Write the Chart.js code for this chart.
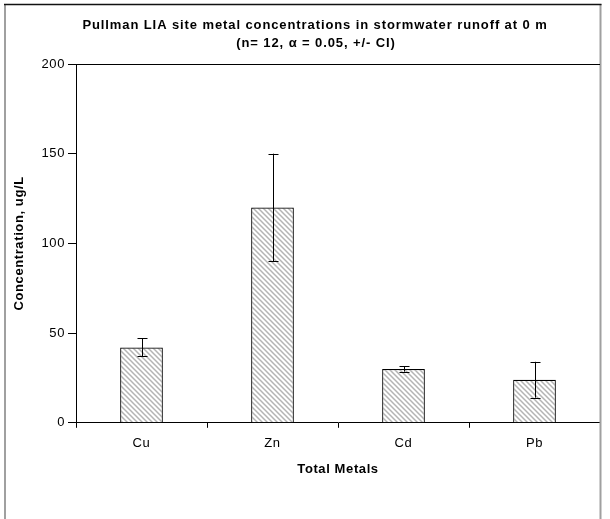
<!DOCTYPE html>
<html>
<head>
<meta charset="utf-8">
<script src="https://cdn.jsdelivr.net/npm/chart.js@4/dist/chart.umd.min.js"></script>
<style>
  html, body { margin: 0; padding: 0; background: #fff; }
  #wrap { width: 610px; height: 519px; }
</style>
</head>
<body>
<div id="wrap"><canvas id="c" width="610" height="519"></canvas></div>
<script>
// Metals measured in runoff, mean and confidence half-width (ug/L)
const metals = ['Cu', 'Zn', 'Cd', 'Pb'];
const meanConc = [42, 120, 30, 24];
const ciHalf = [5, 30, 1.5, 10];
const yTicks = [0, 50, 100, 150, 200];
const titleLines = ['Pullman LIA site metal concentrations in stormwater runoff at 0 m', '(n= 12, \u03b1 = 0.05, +/- CI)'];

const FONT = '"Liberation Sans", Arial, sans-serif';
const SPACING = '0.6px';

// Diagonal hatch fill for the bars
function hatchPattern() {
  const s = 5;
  const t = document.createElement('canvas');
  t.width = s; t.height = s;
  const g = t.getContext('2d');
  g.fillStyle = '#ffffff';
  g.fillRect(0, 0, s, s);
  g.strokeStyle = '#b4b4b4';
  g.lineWidth = 1.5;
  g.beginPath();
  g.moveTo(-1, -1); g.lineTo(s + 1, s + 1);
  g.moveTo(-1, s - 1); g.lineTo(1, s + 1);
  g.moveTo(s - 1, -1); g.lineTo(s + 1, 1);
  g.stroke();
  return g.createPattern(t, 'repeat');
}

// Slightly wider character spacing for all chart text
const spacingPlugin = {
  id: 'textSpacing',
  beforeUpdate(chart) { chart.ctx.letterSpacing = SPACING; },
  beforeLayout(chart) { chart.ctx.letterSpacing = SPACING; },
  beforeDraw(chart) { chart.ctx.letterSpacing = SPACING; }
};

// Outer frame and the two-line heading
const framePlugin = {
  id: 'frameAndHeading',
  beforeDraw(chart) {
    const ctx = chart.ctx;
    ctx.save();
    ctx.fillStyle = '#fff';
    ctx.fillRect(0, 0, chart.width, chart.height);
    ctx.restore();
  },
  afterDraw(chart) {
    const ctx = chart.ctx;
    ctx.save();
    ctx.strokeStyle = '#a0a0a0';
    ctx.lineWidth = 2;
    ctx.beginPath();
    ctx.moveTo(5, 4); ctx.lineTo(5, chart.height + 2);
    ctx.moveTo(600.5, 4); ctx.lineTo(600.5, chart.height + 2);
    ctx.stroke();
    ctx.strokeStyle = '#111';
    ctx.lineWidth = 1.5;
    ctx.beginPath();
    ctx.moveTo(4, 4.5); ctx.lineTo(601.5, 4.5);
    ctx.stroke();
    ctx.fillStyle = '#000';
    ctx.font = 'bold 13px ' + FONT;
    ctx.letterSpacing = '0.9px';
    ctx.textAlign = 'center';
    ctx.textBaseline = 'middle';
    ctx.fillText(titleLines[0], 315, 25);
    ctx.fillText(titleLines[1], 316, 43);
    ctx.restore();
  }
};

// Confidence-interval whiskers positioned through the y scale
const errorBarPlugin = {
  id: 'ciBars',
  afterDatasetsDraw(chart) {
    const ctx = chart.ctx;
    const y = chart.scales.y;
    const meta = chart.getDatasetMeta(0);
    ctx.save();
    ctx.strokeStyle = '#000';
    ctx.lineWidth = 1;
    meta.data.forEach((bar, i) => {
      const x = Math.round(bar.x) + 0.5;
      const hi = y.getPixelForValue(meanConc[i] + ciHalf[i]);
      const lo = y.getPixelForValue(meanConc[i] - ciHalf[i]);
      ctx.beginPath();
      ctx.moveTo(x, hi); ctx.lineTo(x, lo);
      ctx.moveTo(x - 5, Math.round(hi) + 0.5); ctx.lineTo(x + 5, Math.round(hi) + 0.5);
      ctx.moveTo(x - 5, Math.round(lo) + 0.5); ctx.lineTo(x + 5, Math.round(lo) + 0.5);
      ctx.stroke();
    });
    ctx.restore();
  }
};

// Top edge of the plot box
const plotTopPlugin = {
  id: 'plotTop',
  afterDraw(chart) {
    const a = chart.chartArea;
    const ctx = chart.ctx;
    ctx.save();
    ctx.strokeStyle = '#000';
    ctx.lineWidth = 1;
    ctx.beginPath();
    ctx.moveTo(a.left, Math.round(a.top) + 0.5);
    ctx.lineTo(a.right, Math.round(a.top) + 0.5);
    ctx.stroke();
    ctx.restore();
  }
};

new Chart(document.getElementById('c'), {
  type: 'bar',
  data: {
    labels: metals,
    datasets: [{
      data: meanConc,
      backgroundColor: hatchPattern(),
      borderColor: '#000',
      borderWidth: 1.2,
      categoryPercentage: 1,
      barPercentage: 0.326
    }]
  },
  options: {
    responsive: false,
    animation: false,
    events: [],
    layout: { padding: { left: 5, right: 10, top: 64, bottom: 38 } },
    plugins: {
      legend: { display: false },
      title: { display: false },
      tooltip: { enabled: false }
    },
    scales: {
      x: {
        offset: true,
        grid: { offset: true, drawOnChartArea: false, tickLength: 5, color: '#000', tickColor: '#000' },
        border: { display: true, color: '#000', width: 1 },
        ticks: { color: '#000', font: { family: FONT, size: 13 }, padding: 8 },
        title: {
          display: true, text: 'Total Metals', color: '#000',
          font: { family: FONT, size: 13, weight: 'bold' },
          padding: { top: 2, bottom: 4 }
        }
      },
      y: {
        min: 0, max: 200,
        afterBuildTicks(scale) { scale.ticks = yTicks.map(v => ({ value: v })); },
        afterFit(scale) { scale.width = 71; },
        grid: { drawOnChartArea: false, tickLength: 8, color: '#000', tickColor: '#000' },
        border: { display: true, color: '#000', width: 1 },
        ticks: { color: '#000', font: { family: FONT, size: 13 }, padding: 3 },
        title: {
          display: true, text: 'Concentration, ug/L', color: '#000',
          font: { family: FONT, size: 13, weight: 'bold' },
          padding: { top: 7, bottom: 0 }
        }
      }
    }
  },
  plugins: [spacingPlugin, framePlugin, errorBarPlugin, plotTopPlugin]
});
</script>
</body>
</html>
